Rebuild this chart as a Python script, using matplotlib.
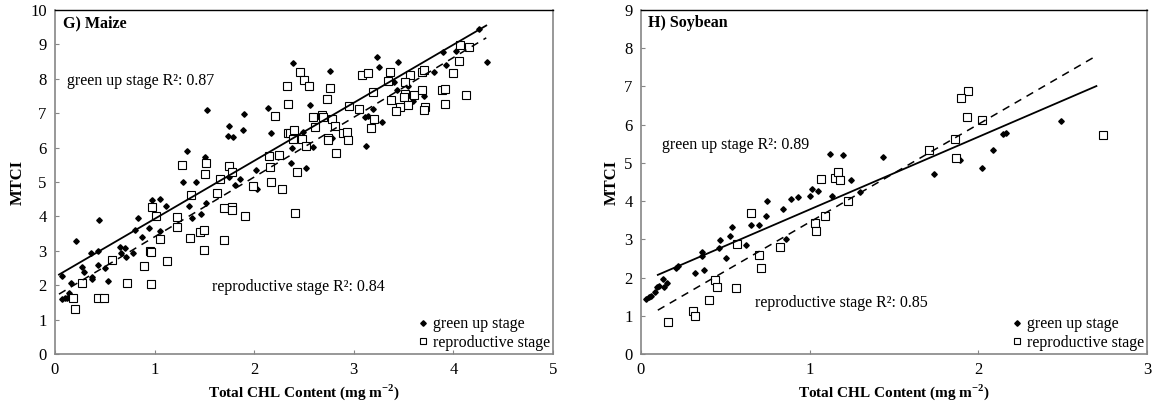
#!/usr/bin/env python3
# -*- coding: utf-8 -*-

import matplotlib
matplotlib.use("Agg")
import matplotlib.pyplot as plt
import numpy as np

plt.rcParams.update({
    "font.family": ["Liberation Serif", "DejaVu Serif"],
    "font.size": 11,
    "mathtext.fontset": "custom",
    "mathtext.rm": "Liberation Serif",
    "mathtext.bf": "Liberation Serif:bold",
})

# ---- Maize: total chlorophyll (mg m-2) vs MTCI ----
maize_green_x = [0.067, 0.074, 0.10, 0.124, 0.15, 0.14, 0.157, 0.207, 0.268, 0.288,
                 0.361, 0.368, 0.375, 0.435, 0.442, 0.435, 0.502, 0.529, 0.656, 0.659,
                 0.703, 0.71, 0.78, 0.807, 0.837, 0.87, 0.947, 0.971, 1.058, 1.058,
                 1.118, 1.285, 1.419, 1.349, 1.376, 1.469, 1.519, 1.33, 1.506, 1.53,
                 1.747, 1.74, 1.79, 1.901, 1.891, 1.75, 1.857, 1.81, 2.02, 2.028,
                 2.138, 2.169, 2.242, 2.376, 2.369, 2.486, 2.517, 2.56, 2.594, 2.785,
                 2.393, 2.487, 2.764, 3.12, 3.11, 3.14, 3.196, 3.28, 3.23, 3.257,
                 3.447, 3.355, 3.405, 3.437, 3.54, 3.597, 3.70, 3.807, 3.90, 4.03,
                 3.93, 4.26, 4.34]
maize_green_y = [2.28, 1.60, 1.62, 1.62, 1.62, 1.76, 2.05, 3.29, 2.52, 2.38,
                 2.93, 2.23, 2.17, 3.00, 3.90, 2.60, 2.50, 2.12, 3.12, 2.93,
                 3.07, 2.81, 2.93, 3.60, 3.94, 3.41, 3.65, 4.48, 4.50, 3.59,
                 4.30, 4.99, 5.00, 4.30, 3.96, 4.08, 4.40, 5.91, 5.74, 7.09,
                 6.64, 6.34, 6.32, 6.99, 6.51, 5.15, 5.08, 4.91, 5.34, 4.79,
                 7.14, 6.43, 5.73, 5.99, 5.56, 6.46, 5.40, 7.24, 6.02, 6.28,
                 8.45, 8.01, 8.23, 6.05, 6.89, 6.92, 7.13, 6.73, 8.64, 8.33,
                 8.48, 8.09, 7.92, 7.68, 7.78, 7.36, 7.49, 8.21, 8.77, 8.81,
                 8.41, 9.45, 8.50]

maize_repro_x = [0.177, 0.20, 0.268, 0.435, 0.495, 0.576, 0.726, 0.897, 0.955, 0.962,
                 0.967, 0.977, 1.011, 1.051, 1.128, 1.228, 1.228, 1.369, 1.355, 1.459,
                 1.499, 1.499, 1.627, 1.70, 1.70, 1.774, 1.78, 1.908, 1.278, 1.513,
                 1.506, 1.654, 1.75, 1.78, 1.991, 2.166, 2.158, 2.15, 2.253, 2.28,
                 2.21, 2.332, 2.342, 2.336, 2.357, 2.397, 2.393, 2.476, 2.425, 2.517,
                 2.41, 2.46, 2.50, 2.55, 2.594, 2.677, 2.69, 2.61, 2.761, 2.735,
                 2.78, 2.81, 2.888, 2.93, 2.945, 2.745, 2.74, 2.818, 2.955, 3.052,
                 3.079, 3.146, 3.19, 3.203, 3.173, 3.364, 3.347, 3.564, 3.514, 3.682,
                 3.708, 3.37, 3.514, 3.507, 3.547, 3.604, 3.464, 3.424, 3.682, 3.885,
                 3.919, 3.715, 3.708, 3.915, 4.0, 4.06, 4.066, 4.157, 4.127]
maize_repro_y = [1.62, 1.32, 2.05, 1.62, 1.62, 2.73, 2.07, 2.56, 3.00, 2.96,
                 2.04, 4.26, 4.02, 3.35, 2.69, 3.97, 3.68, 4.62, 3.36, 3.55,
                 3.60, 3.02, 4.67, 4.23, 3.31, 4.28, 4.19, 4.01, 5.50, 5.56,
                 5.23, 5.10, 5.47, 5.29, 4.89, 5.01, 5.45, 5.76, 5.78, 4.80,
                 6.92, 7.79, 7.27, 6.42, 6.42, 6.50, 6.24, 6.26, 5.29, 6.05,
                 4.09, 8.21, 7.98, 7.78, 6.88, 6.96, 6.90, 6.59, 7.74, 7.40,
                 6.83, 6.62, 6.43, 6.44, 6.22, 6.29, 6.22, 5.83, 7.22, 7.12,
                 8.11, 8.18, 7.61, 6.84, 6.56, 8.19, 7.95, 8.11, 7.92, 8.21,
                 8.26, 7.38, 7.57, 7.46, 7.25, 7.52, 7.19, 7.07, 7.67, 7.67,
                 7.71, 7.19, 7.09, 7.26, 8.18, 8.51, 8.99, 8.93, 7.52]

# linear trend lines (slope, intercept) and the x span they are drawn over
maize_green_fit = (1.688, 2.24)
maize_repro_fit = (1.737, 1.67)
maize_fit_span = (0.04, 4.33)
maize_green_r2 = 0.87
maize_repro_r2 = 0.84

# ---- Soybean ----
soy_green_x = [0.03, 0.047, 0.059, 0.083, 0.097, 0.107, 0.132, 0.152, 0.138, 0.205,
               0.221, 0.32, 0.375, 0.361, 0.359, 0.462, 0.469, 0.507, 0.529, 0.542,
               0.623, 0.651, 0.70, 0.744, 0.75, 0.842, 0.858, 0.892, 0.931, 1.0,
               1.014, 1.049, 1.12, 1.20, 1.13, 1.247, 1.30, 1.436, 1.74, 1.89,
               2.02, 2.087, 2.148, 2.167, 2.49]
soy_green_y = [1.43, 1.48, 1.53, 1.63, 1.75, 1.78, 1.96, 1.87, 1.74, 2.26,
               2.31, 2.12, 2.21, 2.67, 2.57, 2.78, 2.97, 2.52, 3.09, 3.31,
               2.86, 3.38, 3.37, 3.62, 4.00, 3.79, 3.01, 4.05, 4.10, 4.13,
               4.32, 4.26, 5.24, 5.21, 4.14, 4.56, 4.23, 5.15, 4.70, 5.08,
               4.87, 5.33, 5.75, 5.77, 6.10]

soy_repro_x = [0.162, 0.306, 0.321, 0.402, 0.44, 0.452, 0.562, 0.57, 0.655, 0.70,
               0.714, 0.822, 1.03, 1.04, 1.09, 1.065, 1.152, 1.17, 1.18, 1.23,
               1.71, 1.87, 1.94, 1.90, 1.93, 2.02, 1.86, 2.74]
soy_repro_y = [0.83, 1.13, 1.00, 1.41, 1.94, 1.75, 1.72, 2.87, 3.68, 2.59,
               2.26, 2.79, 3.44, 3.23, 3.60, 4.58, 4.61, 4.75, 4.56, 3.99,
               5.34, 5.13, 6.89, 6.69, 6.19, 6.11, 5.63, 5.73]

soy_green_fit = (1.90, 1.88)
soy_repro_fit = (2.56, 0.89)
soy_fit_span = (0.10, 2.70)
soy_green_r2 = 0.89
soy_repro_r2 = 0.85

GRAY = "#868686"
XLABEL = r"Total CHL Content (mg m$^{\mathbf{-2}}$)"


def style_axes(ax, xmax, ymax):
    ax.set_xlim(0, xmax)
    ax.set_ylim(0, ymax)
    ax.set_xticks(np.arange(0, xmax + 1))
    ax.set_yticks(np.arange(0, ymax + 1))
    for side in ("left", "bottom", "right"):
        ax.spines[side].set_color(GRAY)
        ax.spines[side].set_linewidth(1.2)
    ax.spines["top"].set_color("black")
    ax.spines["top"].set_linewidth(1.0)
    ax.tick_params(direction="in", length=3, width=0.8, color=GRAY,
                   labelsize=12, pad=6)
    ax.set_xlabel(XLABEL, fontweight="bold", fontsize=11, labelpad=3)
    ax.set_ylabel("MTCI", fontweight="bold", fontsize=12, labelpad=3)


def draw_panel(ax, gx, gy, rx, ry, gfit, rfit, span):
    ax.plot(gx, gy, linestyle="none", marker="D", ms=2.8, color="black",
            label="green up stage")
    ax.plot(rx, ry, linestyle="none", marker="s", ms=6.3, mfc="white",
            mec="black", mew=0.8, label="reproductive stage")
    xs = np.array(span)
    ax.plot(xs, gfit[0] * xs + gfit[1], color="black", lw=1.3)
    ax.plot(xs, rfit[0] * xs + rfit[1], color="black", lw=1.1,
            dashes=(5, 4))
    leg = ax.legend(loc="lower right", frameon=False, fontsize=11.5,
                    handlelength=0.6, handletextpad=0.3, labelspacing=0.15,
                    borderaxespad=0.1, borderpad=0.1)
    leg.legend_handles[1].set_markersize(5)


fig = plt.figure(figsize=(11.53, 4.04), dpi=100)
ax1 = fig.add_axes([0.0477, 0.1238, 0.4319, 0.8514])
ax2 = fig.add_axes([0.5559, 0.1238, 0.4389, 0.8514])

draw_panel(ax1, maize_green_x, maize_green_y, maize_repro_x, maize_repro_y,
           maize_green_fit, maize_repro_fit, maize_fit_span)
style_axes(ax1, 5, 10)
ax1.text(0.016, 0.962, "G) Maize", transform=ax1.transAxes, fontweight="bold",
         fontsize=11.5, va="center")
ax1.text(0.12, 7.95, f"green up stage R²: {maize_green_r2:.2f}",
         fontsize=11.5, va="center")
ax1.text(1.58, 1.95, f"reproductive stage R²: {maize_repro_r2:.2f}",
         fontsize=11.5, va="center")

draw_panel(ax2, soy_green_x, soy_green_y, soy_repro_x, soy_repro_y,
           soy_green_fit, soy_repro_fit, soy_fit_span)
style_axes(ax2, 3, 9)
ax2.text(0.014, 0.962, "H) Soybean", transform=ax2.transAxes, fontweight="bold",
         fontsize=11.5, va="center")
ax2.text(0.125, 5.48, f"green up stage R²: {soy_green_r2:.2f}",
         fontsize=11.5, va="center")
ax2.text(0.675, 1.34, f"reproductive stage R²: {soy_repro_r2:.2f}",
         fontsize=11.5, va="center")

fig.savefig("out.png", dpi=100)
